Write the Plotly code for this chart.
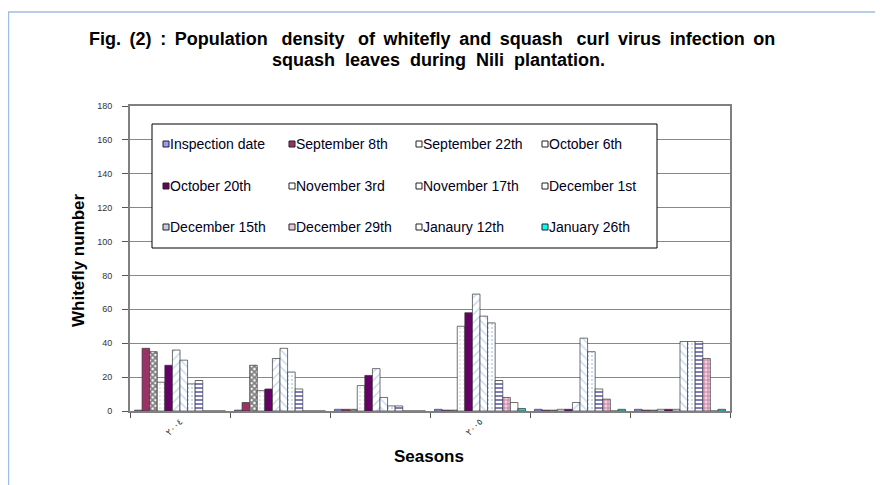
import plotly.graph_objects as go

# ---------------- data ----------------
groups = [0, 1, 2, 3, 4, 5]
tick_positions = [0, 3]
tick_labels = ["٢٠٠٤", "٢٠٠٥"]

series_names = ["Inspection date", "September 8th", "September 22th", "October 6th",
                "October 20th", "November 3rd", "November 17th", "December 1st",
                "December 15th", "December 29th", "Janaury 12th", "January 26th"]

inspection_date = [0.5, 0.5, 1, 1, 1, 1]
september_8 = [37, 5, 1, 0.5, 0.5, 0.5]
september_22 = [35, 27, 1, 0.5, 0.5, 0.5]
october_6 = [17, 12, 15, 50, 1, 1]
october_20 = [27, 13, 21, 58, 1, 1]
november_3 = [36, 31, 25, 69, 5, 1]
november_17 = [30, 37, 8, 56, 43, 41]
december_1 = [16, 23, 3, 52, 35, 41]
december_15 = [18, 13, 3, 18, 13, 41]
december_29 = [0, 0, 0, 8, 7, 31]
january_12 = [0, 0, 0, 5, 0, 0]
january_26 = [0, 0, 0, 1.5, 1, 1]

series_values = [inspection_date, september_8, september_22, october_6, october_20,
                 november_3, november_17, december_1, december_15, december_29,
                 january_12, january_26]

# ---------------- styles ----------------
styles = [
    dict(color="#9999FF"),
    dict(color="#993366"),
    dict(color="#FFFFFF", pattern=dict(shape="x", fgcolor="#000000", bgcolor="#FFFFFF", size=4, solidity=0.7)),
    dict(color="#FFFFFF", pattern=dict(shape=".", fgcolor="#9AA6B8", bgcolor="#FFFFFF", size=4, solidity=0.15)),
    dict(color="#660066"),
    dict(color="#FFFFFF", pattern=dict(shape="/", fgcolor="#8FB4E8", bgcolor="#FFFFFF", size=6, solidity=0.25)),
    dict(color="#FFFFFF", pattern=dict(shape="\\", fgcolor="#8FB4E8", bgcolor="#FFFFFF", size=6, solidity=0.25)),
    dict(color="#FFFFFF", pattern=dict(shape=".", fgcolor="#7FA0D0", bgcolor="#FFFFFF", size=4, solidity=0.2)),
    dict(color="#FFFFFF", pattern=dict(shape="-", fgcolor="#000080", bgcolor="#FFFFFF", size=4, solidity=0.5)),
    dict(color="#FFFFFF", pattern=dict(shape="+", fgcolor="#993366", bgcolor="#F4D0E4", size=4, solidity=0.45)),
    dict(color="#FFFFFF"),
    dict(color="#33CCCC"),
]
legend_fill = ["#9999FF", "#993366", "#FFFFFF", "#FFFFFF", "#660066", "#FFFFFF",
               "#FFFFFF", "#FFFFFF", "#C8C8E8", "#E8C8D8", "#FFFFFF", "#00FFFF"]

fig = go.Figure()
for name, vals, st in zip(series_names, series_values, styles):
    fig.add_trace(go.Bar(
        x=groups, y=vals, name=name, showlegend=False,
        marker=dict(line=dict(color="#333333", width=0.7), **st),
    ))

# page offset (browser body margin) and pixel -> paper helpers
OFF = 8
L, R, T, B = 130, 730, 106, 411
W, H = R - L, B - T
def px(x):
    return (x - L) / W
def py(y):
    return (B - y) / H

shapes = []
annotations = []

# outer light-blue frame (top and left edges)
shapes.append(dict(type="line", xref="paper", yref="paper", x0=px(8), x1=px(883), y0=py(12), y1=py(12),
                   line=dict(color="#9EBEE6", width=1.5)))
shapes.append(dict(type="line", xref="paper", yref="paper", x0=px(8.5), x1=px(8.5), y0=py(12), y1=py(485),
                   line=dict(color="#9EBEE6", width=1.5)))

# legend box
shapes.append(dict(type="rect", xref="paper", yref="paper", x0=px(152), x1=px(657), y0=py(248), y1=py(124),
                   fillcolor="#FFFFFF", line=dict(color="#000000", width=1), layer="above"))
col_x = [166, 292, 419, 545]
row_y = [144, 186, 227]
for i, name in enumerate(series_names):
    r, c = divmod(i, 4)
    cx, cy = col_x[c], row_y[r]
    shapes.append(dict(type="rect", xref="paper", yref="paper", x0=px(cx - 3), x1=px(cx + 3),
                       y0=py(cy + 3), y1=py(cy - 3), fillcolor=legend_fill[i],
                       line=dict(color="#222222", width=1), layer="above"))
    annotations.append(dict(xref="paper", yref="paper", x=px(cx + 2), y=py(cy), text=name,
                            showarrow=False, xanchor="left", yanchor="middle",
                            font=dict(family="Liberation Sans, Arial", size=14, color="#000022")))

# titles
title_font = dict(family="Liberation Sans, Arial", size=18, color="#000000")
axis_font = dict(family="Liberation Sans, Arial", size=17, color="#000000")
sp = "\u2009 "
title_line1 = sp.join(["Fig.", "(2)", ":", "Population\u00a0", "density\u00a0", "of", "whitefly",
                       "and", "squash\u00a0", "curl", "virus", "infection", "on"])
annotations.append(dict(xref="paper", yref="paper", x=px(432), y=py(39),
                        text="<b>" + title_line1 + "</b>",
                        showarrow=False, xanchor="center", yanchor="middle", font=title_font))
annotations.append(dict(xref="paper", yref="paper", x=px(438), y=py(60),
                        text="<b>squash\u00a0 leaves\u00a0 during\u00a0 Nili\u00a0 plantation.</b>",
                        showarrow=False, xanchor="center", yanchor="middle", font=title_font))
annotations.append(dict(xref="paper", yref="paper", x=px(79), y=py(260), text="<b>Whitefly number</b>",
                        textangle=-90, showarrow=False, xanchor="center", yanchor="middle", font=axis_font))
annotations.append(dict(xref="paper", yref="paper", x=px(429), y=py(457), text="<b>Seasons</b>",
                        showarrow=False, xanchor="center", yanchor="middle", font=axis_font))

fig.update_layout(
    width=883 - OFF, height=485 - OFF, autosize=False,
    margin=dict(l=L - OFF, r=883 - R, t=T - OFF, b=485 - B, pad=0),
    paper_bgcolor="#FFFFFF", plot_bgcolor="#FFFFFF",
    barmode="group", bargap=0.09, bargroupgap=0,
    shapes=shapes, annotations=annotations,
    font=dict(family="Liberation Sans, Arial", color="#222222"),
)
fig.update_xaxes(
    range=[-0.5, 5.5], tickmode="array", tickvals=tick_positions, ticktext=tick_labels,
    tickangle=-45, ticks="", tickfont=dict(family="DejaVu Sans", size=9, color="#333333"),
    showgrid=False, zeroline=False, showline=True, linecolor="#808080", linewidth=1.5, mirror=True,
    minor=dict(tickmode="array", tickvals=[-0.5, 0.5, 1.5, 2.5, 3.5, 4.5, 5.5],
               ticks="outside", ticklen=5, tickcolor="#555555", tickwidth=1, showgrid=False),
)
fig.update_yaxes(
    range=[0, 180], dtick=20, ticks="outside", ticklen=6, tickcolor="#555555",
    tickfont=dict(family="Liberation Sans, Arial", size=9, color="#333333"),
    ticklabelstandoff=8,
    showgrid=True, gridcolor="#888888", gridwidth=1, zeroline=False,
    showline=True, linecolor="#808080", linewidth=2, mirror=True,
)

fig.write_html("out.html")
